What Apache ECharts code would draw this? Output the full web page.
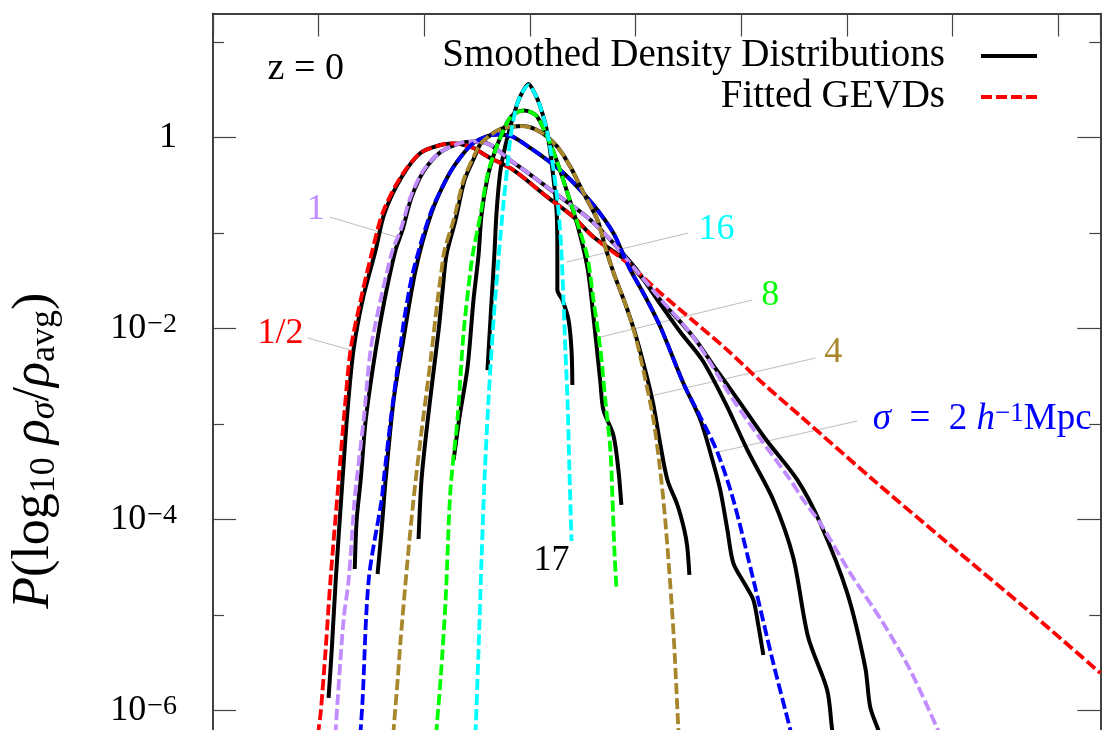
<!DOCTYPE html>
<html><head><meta charset="utf-8">
<script src="https://cdn.jsdelivr.net/npm/echarts@6/dist/echarts.min.js"></script>
<style>html,body{margin:0;padding:0;background:#fff}#c{width:1103px;height:730px}</style>
</head><body><div id="c"></div>
<script>
// ---------- data: [log10(rho_sigma/rho_avg), P] ----------
// Fitted GEVDs
const fitHalf = [[-1.005,3.88e-7],[-1.000,6.28e-7],[-0.990,9.68e-7],[-0.967,4.32e-6],[-0.944,2.34e-5],[-0.905,2.61e-4],[-0.877,1.41e-3],[-0.849,5.98e-3],[-0.801,2.0e-2],[-0.745,6.67e-2],[-0.697,0.163],[-0.612,0.388],[-0.518,0.692],[-0.423,0.839],[-0.366,0.870],[-0.329,0.859],[-0.267,0.780],[-0.196,0.628],[-0.078,0.459],[0.083,0.239],[0.206,0.148],[0.301,0.0912],[0.462,0.0488],[0.618,0.0237],[0.774,0.01205],[0.935,5.98e-3],[1.091,2.83e-3],[1.280,1.22e-3],[1.620,2.67e-4],[1.989,5.43e-5],[2.367,1.08e-5],[2.70,2.48e-6]];
const fitOne = [[-0.924,3.88e-7],[-0.919,6.28e-7],[-0.910,1.29e-6],[-0.882,8.91e-6],[-0.858,2.34e-5],[-0.830,1.61e-4],[-0.820,2.61e-4],[-0.787,1.11e-3],[-0.754,5.98e-3],[-0.707,0.02],[-0.674,0.0412],[-0.650,0.0667],[-0.612,0.108],[-0.565,0.239],[-0.503,0.459],[-0.423,0.708],[-0.328,0.880],[-0.257,0.912],[-0.186,0.839],[-0.106,0.613],[0.017,0.388],[0.145,0.239],[0.287,0.1375],[0.395,0.0789],[0.462,0.0524],[0.618,0.0205],[0.774,8.18e-3],[0.963,1.79e-3],[1.095,6.83e-4],[1.233,2.61e-4],[1.294,1.61e-4],[1.374,9.23e-5],[1.516,2.77e-5],[1.672,8.28e-6],[1.800,2.67e-6],[1.932,6.28e-7],[1.975,3.88e-7]];
const fitTwo = [[-0.806,3.88e-7],[-0.801,6.28e-7],[-0.792,1.29e-6],[-0.763,2.34e-5],[-0.702,1.61e-4],[-0.692,2.61e-4],[-0.659,1.11e-3],[-0.612,6.75e-3],[-0.588,1.57e-2],[-0.551,0.0412],[-0.470,0.163],[-0.390,0.388],[-0.328,0.628],[-0.267,0.880],[-0.201,1.042],[-0.153,1.080],[-0.115,1.067],[-0.078,1.017],[0.003,0.780],[0.083,0.584],[0.159,0.427],[0.239,0.2834],[0.320,0.175],[0.395,0.1005],[0.443,0.0591],[0.476,0.0412],[0.547,0.0215],[0.618,0.01042],[0.726,2.70e-3],[0.807,1.19e-3],[0.887,5.12e-4],[0.963,1.61e-4],[1.058,2.34e-5],[1.152,3.16e-6],[1.233,6.28e-7],[1.256,3.88e-7]];
const fitFour = [[-0.650,3.88e-7],[-0.645,6.28e-7],[-0.626,2.09e-6],[-0.612,5.50e-6],[-0.579,3.78e-5],[-0.551,1.61e-4],[-0.518,6.83e-4],[-0.470,4.70e-3],[-0.437,0.02],[-0.418,0.0412],[-0.404,0.0667],[-0.361,0.1375],[-0.314,0.361],[-0.267,0.628],[-0.234,0.859],[-0.186,1.067],[-0.139,1.233],[-0.078,1.310],[-0.035,1.326],[0.050,1.147],[0.131,0.799],[0.192,0.493],[0.254,0.2636],[0.320,0.1375],[0.357,0.0717],[0.395,0.0392],[0.462,1.57e-2],[0.504,7.62e-3],[0.547,2.90e-3],[0.585,1.11e-3],[0.608,4.76e-4],[0.632,1.61e-4],[0.651,5.18e-5],[0.679,7.00e-6],[0.703,6.28e-7],[0.708,3.88e-7]];
const fitEight = [[-0.4465,3.88e-7],[-0.442,6.28e-7],[-0.423,2.09e-6],[-0.399,1.44e-5],[-0.376,2.05e-4],[-0.342,1.19e-3],[-0.314,9.02e-3],[-0.281,0.0412],[-0.267,0.0667],[-0.234,0.155],[-0.201,0.4068],[-0.167,0.708],[-0.139,1.017],[-0.101,1.532],[-0.068,1.814],[-0.030,1.927],[0.003,1.858],[0.036,1.647],[0.083,1.017],[0.131,0.543],[0.178,0.2636],[0.225,0.128],[0.272,0.0564],[0.301,0.02],[0.334,5.98e-3],[0.357,1.79e-3],[0.381,5.37e-4],[0.391,1.61e-4],[0.400,4.82e-5],[0.410,1.84e-5]];
const fitSixteen = [[-0.262,3.88e-7],[-0.257,6.28e-7],[-0.243,4.32e-6],[-0.229,3.78e-5],[-0.215,2.61e-4],[-0.196,1.79e-3],[-0.172,0.01233],[-0.153,0.0412],[-0.139,0.0957],[-0.125,0.207],[-0.106,0.518],[-0.092,1.017],[-0.073,1.729],[-0.059,2.309],[-0.035,3.01],[-0.007,3.56],[0.022,2.94],[0.050,2.097],[0.083,1.12],[0.112,0.459],[0.135,0.175],[0.149,0.0667],[0.159,0.02],[0.168,5.98e-3],[0.178,1.79e-3],[0.187,3.31e-4],[0.197,5.98e-5]];
// Smoothed density distributions
const dataHalf = [[-0.953,1.36e-6],[-0.938,4.32e-6],[-0.919,2.34e-5],[-0.887,2.61e-4],[-0.863,1.41e-3],[-0.835,5.98e-3],[-0.792,0.02],[-0.730,0.0667],[-0.688,0.163],[-0.607,0.388],[-0.518,0.692],[-0.423,0.839],[-0.366,0.870],[-0.329,0.859],[-0.267,0.780],[-0.196,0.628],[-0.078,0.459],[0.083,0.239],[0.206,0.148],[0.301,0.0912],[0.462,0.0499],[0.618,0.02],[0.774,8.18e-3],[0.877,3.88e-3],[0.986,1.79e-3],[1.119,6.83e-4],[1.266,2.61e-4],[1.374,9.23e-5],[1.502,1.71e-5],[1.587,2.87e-6],[1.611,1.09e-6],[1.649,6.28e-7],[1.672,4.38e-7]];
const dataOne = [[-0.829,3.05e-5],[-0.820,9.93e-5],[-0.801,2.61e-4],[-0.777,1.11e-3],[-0.730,5.98e-3],[-0.688,0.02],[-0.636,0.0667],[-0.603,0.108],[-0.560,0.239],[-0.499,0.459],[-0.423,0.708],[-0.328,0.880],[-0.257,0.912],[-0.186,0.839],[-0.106,0.613],[0.017,0.388],[0.145,0.239],[0.287,0.1375],[0.395,0.0789],[0.499,0.0432],[0.604,0.02],[0.712,9.23e-3],[0.816,4.70e-3],[0.925,1.67e-3],[1.034,5.12e-4],[1.152,1.61e-4],[1.246,4.07e-5],[1.317,5.91e-6],[1.407,1.65e-6],[1.431,6.28e-7],[1.445,4.38e-7]];
const dataTwo = [[-0.721,2.70e-5],[-0.702,7.80e-5],[-0.683,2.61e-4],[-0.645,1.79e-3],[-0.603,6.75e-3],[-0.541,0.0412],[-0.466,0.163],[-0.390,0.388],[-0.328,0.628],[-0.267,0.880],[-0.201,1.042],[-0.153,1.080],[-0.115,1.067],[-0.078,1.017],[0.003,0.780],[0.083,0.584],[0.159,0.427],[0.239,0.2834],[0.320,0.175],[0.395,0.1005],[0.443,0.0591],[0.476,0.0412],[0.547,0.0215],[0.618,0.01042],[0.726,2.70e-3],[0.807,1.11e-3],[0.864,4.22e-4],[0.901,2.05e-4],[0.935,7.80e-5],[0.963,3.52e-5],[1.020,2.07e-5],[1.058,1.44e-5],[1.081,7.90e-6],[1.105,3.83e-6]];
const dataFour = [[-0.527,6.28e-5],[-0.513,2.61e-4],[-0.489,8.70e-4],[-0.461,2.90e-3],[-0.432,9.69e-3],[-0.413,0.0254],[-0.395,0.0591],[-0.352,0.1375],[-0.309,0.361],[-0.262,0.628],[-0.234,0.859],[-0.186,1.067],[-0.139,1.233],[-0.078,1.310],[-0.035,1.326],[0.050,1.147],[0.131,0.799],[0.192,0.493],[0.254,0.2636],[0.320,0.1375],[0.357,0.0717],[0.395,0.0392],[0.462,1.57e-2],[0.514,6.75e-3],[0.580,1.79e-3],[0.618,6.05e-4],[0.651,2.61e-4],[0.698,1.43e-4],[0.731,7.80e-5],[0.745,5.18e-5],[0.755,2.64e-5]];
const dataEight = [[-0.361,4.22e-4],[-0.333,1.19e-3],[-0.295,3.97e-3],[-0.267,0.02],[-0.243,0.0591],[-0.229,0.155],[-0.201,0.378],[-0.167,0.708],[-0.139,1.017],[-0.101,1.532],[-0.068,1.814],[-0.030,1.927],[0.003,1.858],[0.036,1.647],[0.083,1.017],[0.131,0.543],[0.178,0.2636],[0.225,0.122],[0.272,0.0443],[0.301,0.01326],[0.334,2.70e-3],[0.348,1.41e-3],[0.395,7.71e-4],[0.419,3.31e-4],[0.433,1.43e-4]];
const dataSixteen = [[-0.201,3.69e-3],[-0.186,0.01326],[-0.167,0.0667],[-0.158,0.163],[-0.139,0.459],[-0.106,1.017],[-0.059,2.309],[-0.035,3.01],[-0.007,3.65],[0.022,2.94],[0.050,2.097],[0.083,1.12],[0.107,0.459],[0.126,0.175],[0.130,0.0667],[0.130,0.0254],[0.154,0.02],[0.183,0.01233],[0.197,5.98e-3],[0.201,2.57e-3]];
// axis ticks (P values)
const majorTicks = [1e-6, 1e-4, 1e-2, 1];
const minorTicks = [1e-5, 1e-3, 0.1, 10];
// text annotations and anchors (data coordinates)
const labelTexts = ['1/2', '1', '16', '8', '4', '{i|σ}{n|  =  2 }{i|h}{s|−1}{n|Mpc}', '17', '{z|z = 0}'];
const labelAnchors = [[-1.180,8.8e-3],[-1.014,0.179],[0.883,0.108],[1.138,0.0220],[1.436,5.57e-3],[2.141,1.13e-3],[0.102,3.78e-5],[-1.061,5.24]];
const leaderLines = [
  [[-1.052,8.0e-3],[-0.849,5.98e-3]],
  [[-0.948,0.148],[-0.631,0.0912]],
  [[0.750,0.1005],[0.173,0.0499]],
  [[1.053,0.02],[0.334,8.18e-3]],
  [[1.351,4.93e-3],[0.570,1.97e-3]],
  [[1.549,1.08e-3],[0.892,5.12e-4]]
];
const seriesNames = ['Smoothed Density Distributions', 'Fitted GEVDs'];

// ---------- styling ----------
const FONT = 'Liberation Serif';
const C = {half:'#ff0000', one:'#c08cff', two:'#0000ff', four:'#a8862c', eight:'#00ff00', sixteen:'#00ffff'};
const labelColors = [C.half, C.one, C.sixteen, C.eight, C.four, C.two, '#000', '#000'];

function curve(name, data, color, dashed) {
  return {
    type: 'line', name, data, symbol: 'none', showSymbol: false, smooth: 0.3,
    silent: true, z: dashed ? 3 : 2, clip: true,
    lineStyle: {color, width: dashed ? 3.8 : 4, type: dashed ? [11, 4] : 'solid', cap: 'butt'},
    itemStyle: {color}
  };
}

const series = [];
leaderLines.forEach(seg => series.push({
  type: 'line', data: seg, symbol: 'none', silent: true, z: 1,
  lineStyle: {color: '#bdbdbd', width: 1}
}));
[dataHalf, dataOne, dataTwo, dataFour, dataEight, dataSixteen].forEach(d =>
  series.push(curve(seriesNames[0], d, '#000', false)));
series.push(curve(seriesNames[1], fitHalf, C.half, true));
series.push(curve(seriesNames[1], fitOne, C.one, true));
series.push(curve(seriesNames[1], fitTwo, C.two, true));
series.push(curve(seriesNames[1], fitFour, C.four, true));
series.push(curve(seriesNames[1], fitEight, C.eight, true));
series.push(curve(seriesNames[1], fitSixteen, C.sixteen, true));
series.push({
  type: 'scatter', symbolSize: 0, silent: true, z: 6,
  itemStyle: {color: 'transparent', opacity: 1},
  data: labelAnchors.map((a, i) => ({value: a, label: {color: labelColors[i], formatter: labelTexts[i]}})),
  label: {
    show: true, position: 'inside', fontFamily: FONT, fontSize: 36, opacity: 1,
    rich: {
      i: {fontFamily: FONT, fontSize: 37, fontStyle: 'italic', color: C.two},
      n: {fontFamily: FONT, fontSize: 37, color: C.two},
      s: {fontFamily: FONT, fontSize: 27, color: C.two, verticalAlign: 'top', lineHeight: 22},
      z: {fontFamily: FONT, fontSize: 38, color: '#000'}
    }
  }
});

const frame = {color: '#000', width: 1.5};
const tickStyle = {color: '#444', width: 1.2};
function xAx(pos, visible) {
  return {type: 'value', min: -1.5, max: 2.7, interval: 0.5, position: pos,
    axisLine: {show: visible, onZero: false, lineStyle: frame},
    axisTick: {show: visible, inside: true, length: 23, lineStyle: tickStyle},
    axisLabel: {show: false}, splitLine: {show: false}};
}
function yAx(pos, ticks, len, line) {
  return {type: 'log', logBase: 10, min: 6.28e-7, max: 20, position: pos,
    axisLine: {show: line, onZero: false, lineStyle: frame},
    axisTick: {show: true, inside: true, length: len, customValues: ticks, lineStyle: tickStyle},
    axisLabel: {show: false}, splitLine: {show: false}};
}
const yMainLeft = yAx('left', majorTicks, 23, true);
yMainLeft.axisLabel = {
  show: true, customValues: majorTicks, margin: 36,
  formatter: v => { const e = Math.round(Math.log10(v)); return e === 0 ? '{b|1}' : '{b|10}{s|−' + (-e) + '}'; },
  rich: {
    b: {fontFamily: FONT, fontSize: 36, color: '#000', lineHeight: 36},
    s: {fontFamily: FONT, fontSize: 28, color: '#000', verticalAlign: 'top', lineHeight: 22, padding: [0, 0, 0, 1]}
  }
};
yMainLeft.name = '{p|P}{n|(log}{sub|10}{n| }{p|ρ}{subi|σ}{n|/}{p|ρ}{sub|avg}{n|)}';
yMainLeft.nameLocation = 'middle';
yMainLeft.nameRotate = 90;
yMainLeft.nameGap = 150;
yMainLeft.nameTextStyle = {
  fontFamily: FONT, fontSize: 52, color: '#000', padding: [0, 158, 0, 0],
  rich: {
    p: {fontFamily: FONT, fontSize: 52, fontStyle: 'italic', lineHeight: 58, color: '#000'},
    n: {fontFamily: FONT, fontSize: 52, lineHeight: 58, color: '#000'},
    sub: {fontFamily: FONT, fontSize: 36, lineHeight: 22, verticalAlign: 'bottom', color: '#000'},
    subi: {fontFamily: FONT, fontSize: 36, fontStyle: 'italic', lineHeight: 22, verticalAlign: 'bottom', color: '#000'}
  }
};
const yMinorLeft = yAx('left', minorTicks, 11, false);
const yMainRight = yAx('right', majorTicks, 23, true);
const yMinorRight = yAx('right', minorTicks, 11, false);

const chart = echarts.init(document.getElementById('c'), null, {renderer: 'canvas'});
chart.setOption({
  animation: false,
  backgroundColor: '#fff',
  grid: {left: 212.3, right: 2.7, top: 13.5, bottom: 0, containLabel: false},
  xAxis: [xAx('bottom', false), xAx('top', true)],
  yAxis: [yMainLeft, yMinorLeft, yMainRight, yMinorRight],
  legend: {
    data: seriesNames, orient: 'vertical', align: 'right', right: 59, top: 31,
    itemWidth: 56, itemHeight: 14, itemGap: 1, selectedMode: false,
    itemStyle: {opacity: 0},
    lineStyle: {width: 4},
    textStyle: {fontFamily: FONT, fontSize: 39, color: '#000', lineHeight: 40, padding: [0, 31, 0, 0]}
  },
  series
});
</script></body></html>
